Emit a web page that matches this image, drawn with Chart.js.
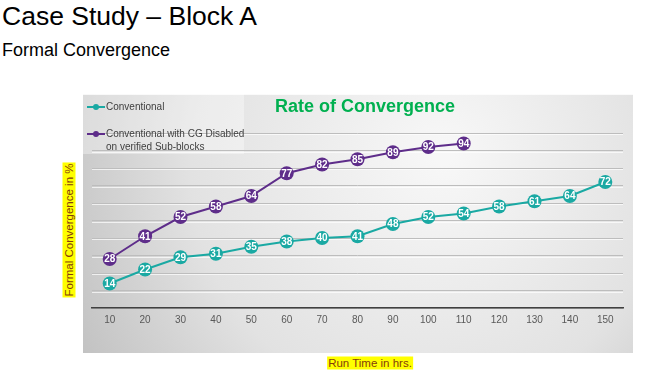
<!DOCTYPE html>
<html>
<head>
<meta charset="utf-8">
<script src="https://cdn.jsdelivr.net/npm/chart.js@4.4.1/dist/chart.umd.min.js"></script>
<style>
    body { margin: 0; width: 646px; height: 371px; background: #fff; position: relative; overflow: hidden; font-family: "Liberation Sans", Arial, sans-serif; }
    .abs { position: absolute; white-space: nowrap; }
    #titulo { left: 2px; top: 1px; font-size: 26.5px; color: #000; }
    #subtitulo { left: 2px; top: 40px; font-size: 18px; color: #000; }
    #painel { position: absolute; left: 83px; top: 94px; width: 550px; height: 259px; }
    #tituloGrafico { left: 275px; top: 96px; font-size: 18px; font-weight: bold; color: #00B050; }
    .legenda { font-size: 10px; color: #404040; line-height: 13px; }
    .marca { position: absolute; height: 2px; width: 18px; }
    .marca::after { content: ""; position: absolute; left: 6px; top: -2px; width: 6px; height: 6px; border-radius: 50%; background: inherit; }
    .rotulo { background: #ffff00; color: #843C0C; font-size: 11.5px; padding: 0 1px; line-height: 13px; }
    #rotuloY { left: 69px; top: 230px; transform: translate(-50%, -50%) rotate(-90deg); }
    #rotuloX { left: 370px; top: 363px; transform: translate(-50%, -50%); }
</style>
</head>
<body>
<div id="titulo" class="abs">Case Study – Block A</div>
<div id="subtitulo" class="abs">Formal Convergence</div>

<div id="painel"><canvas id="grafico" width="550" height="259"></canvas></div>

<div id="tituloGrafico" class="abs">Rate of Convergence</div>

<div class="abs marca" style="left:87px; top:106px; background:#1AA9A3;"></div>
<div class="abs legenda" style="left:106px; top:100px;">Conventional</div>
<div class="abs marca" style="left:87px; top:133px; background:#5E2D8A;"></div>
<div class="abs legenda" style="left:106px; top:127px;">Conventional with CG Disabled<br>on verified Sub-blocks</div>

<div id="rotuloY" class="abs rotulo">Formal Convergence in %</div>
<div id="rotuloX" class="abs rotulo">Run Time in hrs.</div>

<script>
// Dados do gráfico
const horas = ['10', '20', '30', '40', '50', '60', '70', '80', '90', '100', '110', '120', '130', '140', '150'];
const convencional = [14, 22, 29, 31, 35, 38, 40, 41, 48, 52, 54, 58, 61, 64, 72];
const cgDesabilitado = [28, 41, 52, 58, 64, 77, 82, 85, 89, 92, 94];

const corConvencional = '#1AA9A3';
const corCG = '#5E2D8A';

// Fundo com gradiente e caixa clara da legenda
const fundoPlugin = {
    id: 'fundo',
    beforeDraw(chart) {
        const ctx = chart.ctx;
        const w = chart.width, h = chart.height;
        const g = ctx.createRadialGradient(360, 60, 10, 330, 90, 420);
        g.addColorStop(0, '#f7f7f7');
        g.addColorStop(0.55, '#e2e2e2');
        g.addColorStop(1, '#b8b8b8');
        ctx.save();
        ctx.fillStyle = g;
        ctx.fillRect(0, 0, w, h);
        ctx.fillStyle = 'rgba(255,255,255,0.35)';
        ctx.fillRect(0, 0, 161, 60);
        ctx.strokeStyle = 'rgba(255,255,255,0.8)';
        ctx.lineWidth = 1;
        ctx.beginPath();
        ctx.moveTo(0, 0.5);
        ctx.lineTo(w, 0.5);
        ctx.stroke();
        ctx.restore();
    },
    beforeDatasetsDraw(chart) {
        // realce branco abaixo de cada linha de grade
        const ctx = chart.ctx;
        const y = chart.scales.y;
        const area = chart.chartArea;
        ctx.save();
        ctx.strokeStyle = 'rgba(255,255,255,0.7)';
        ctx.lineWidth = 1;
        y.ticks.forEach(t => {
            if (t.value === 0) return;
            const py = Math.round(y.getPixelForValue(t.value)) + 1.5;
            ctx.beginPath();
            ctx.moveTo(area.left, py);
            ctx.lineTo(area.right, py);
            ctx.stroke();
        });
        ctx.restore();
    }
};

// Rótulos de valor dentro dos pontos
const rotulosPlugin = {
    id: 'rotulos',
    afterDatasetsDraw(chart) {
        const ctx = chart.ctx;
        ctx.save();
        ctx.font = 'bold 10px "Liberation Sans", Arial, sans-serif';
        ctx.fillStyle = '#ffffff';
        ctx.textAlign = 'center';
        ctx.textBaseline = 'middle';
        chart.data.datasets.forEach((ds, i) => {
            chart.getDatasetMeta(i).data.forEach((p, j) => {
                if (ds.data[j] == null) return;
                ctx.fillText(String(ds.data[j]), p.x, p.y + 0.5);
            });
        });
        ctx.restore();
    }
};

function criarGrafico() {
    const ctx = document.getElementById('grafico').getContext('2d');
    return new Chart(ctx, {
        type: 'line',
        data: {
            labels: horas,
            datasets: [{
                label: 'Conventional',
                data: convencional,
                borderColor: corConvencional,
                backgroundColor: corConvencional,
                borderWidth: 2,
                pointRadius: 7,
                pointHoverRadius: 7,
                pointBorderWidth: 0,
                tension: 0
            }, {
                label: 'Conventional with CG Disabled on verified Sub-blocks',
                data: cgDesabilitado,
                borderColor: corCG,
                backgroundColor: corCG,
                borderWidth: 2,
                pointRadius: 7,
                pointHoverRadius: 7,
                pointBorderWidth: 0,
                tension: 0
            }]
        },
        options: {
            responsive: false,
            animation: false,
            layout: { padding: { left: 9, right: 10, top: 39, bottom: 0 } },
            plugins: {
                legend: { display: false },
                title: { display: false },
                tooltip: { enabled: false }
            },
            scales: {
                x: {
                    offset: true,
                    grid: { display: false, drawTicks: false, offset: true },
                    border: { display: true, color: '#404040', width: 1.5 },
                    ticks: {
                        color: '#595959',
                        padding: 6,
                        font: { family: '"Liberation Sans", Arial, sans-serif', size: 10 }
                    },
                    afterFit(scale) { scale.height = 45; }
                },
                y: {
                    min: 0,
                    max: 100,
                    ticks: { stepSize: 10, display: false },
                    grid: { color: '#bdbdbd', lineWidth: 1, drawTicks: false },
                    border: { display: false },
                    afterFit(scale) { scale.width = 0; }
                }
            }
        },
        plugins: [fundoPlugin, rotulosPlugin]
    });
}

window.onload = function() {
    criarGrafico();
};
</script>
</body>
</html>
